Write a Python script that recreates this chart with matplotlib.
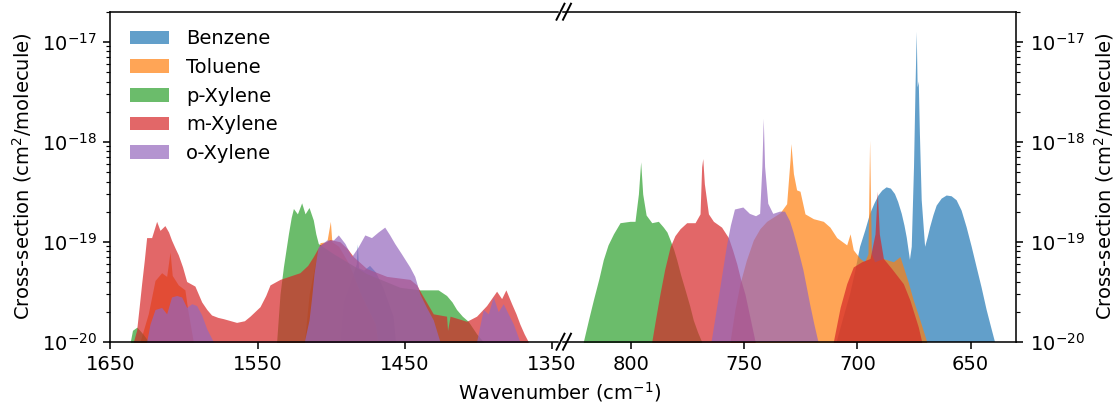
import matplotlib
matplotlib.use("Agg")
import matplotlib.pyplot as plt
from matplotlib.lines import Line2D
from matplotlib.ticker import LogLocator, NullFormatter

# ---------------- data (wavenumber cm^-1, cross-section cm^2/molecule) ----------------
# High-wavenumber window (1650-1350)
benzene_hi_wn = [1500, 1492, 1486, 1483, 1482.3, 1481.5, 1478, 1474, 1470, 1465, 1458, 1450]
benzene_hi_xs = [1e-21, 2.5e-20, 4.5e-20, 6e-20, 9.5e-20, 5.5e-20, 5.2e-20, 5.8e-20, 5.0e-20, 3.5e-20, 1.8e-20, 1e-21]

toluene_hi_wn = [1632, 1629.9, 1624.3, 1619.7, 1615.2, 1611.8, 1609.5, 1608.0, 1603.9, 1599.4, 1597.5, 1593.7, 1591,
                 1525, 1515, 1510, 1507.6, 1503, 1500.6, 1499.6, 1495, 1488, 1480, 1470, 1460]
toluene_hi_xs = [1e-21, 1e-20, 1.9e-20, 4.1e-20, 4.9e-20, 4.5e-20, 7.9e-20, 4.6e-20, 3.7e-20, 3.3e-20, 2.1e-20, 1e-20, 1e-21,
                 1e-21, 3e-20, 7e-20, 9.8e-20, 1.0e-19, 1.6e-19, 1.0e-19, 9e-20, 6e-20, 3e-20, 1.5e-20, 1e-21]

pxylene_hi_wn = [1640, 1636.5, 1635, 1632, 1628, 1624, 1620,
                 1540, 1537.1, 1534.8, 1532.5, 1529.1, 1527.2, 1525.7, 1523.0, 1520.1, 1517.8, 1515.1, 1512.2, 1510.5, 1508.8,
                 1498.6, 1476, 1453.4, 1439.8, 1427.4, 1421.7, 1418, 1414.9, 1411, 1407.0, 1401.3, 1396.8, 1393]
pxylene_hi_xs = [1e-21, 1e-20, 1.3e-20, 1.4e-20, 1.2e-20, 1e-20, 1e-21,
                 1e-21, 1e-20, 3.0e-20, 5.6e-20, 1.2e-19, 1.75e-19, 2.15e-19, 1.9e-19, 2.45e-19, 1.9e-19, 2.2e-19, 1.65e-19, 1.2e-19, 9.6e-20,
                 7.6e-20, 4.8e-20, 3.5e-20, 3.3e-20, 3.3e-20, 2.9e-20, 2.5e-20, 2.1e-20, 1.8e-20, 1.6e-20, 1.2e-20, 1e-20, 1e-21]

mxylene_hi_wn = [1638, 1634.4, 1632.2, 1630.5, 1628.8, 1627, 1625.4, 1622.0, 1618.6, 1616.3, 1613.0, 1610.5, 1608.5, 1606, 1603.9,
                 1601, 1598.2, 1592.6, 1588.0, 1584.5, 1581.3, 1577, 1573.3, 1564.3, 1559, 1555.2, 1548.4, 1544.5, 1541.6,
                 1534.8, 1521.3, 1516, 1512.2, 1507.7, 1500.9, 1494.1, 1489, 1485.0, 1476.0, 1462.3, 1446.5, 1442, 1438.6,
                 1434, 1430.7, 1421.7, 1421.0, 1419.3, 1408.0, 1401.3, 1394.5, 1387.7, 1384.3, 1381.4, 1377.5, 1374.5,
                 1371.9, 1369, 1366.2, 1362]
mxylene_hi_xs = [1e-21, 1e-20, 1.3e-20, 2.2e-20, 3.8e-20, 6.5e-20, 1.1e-19, 1.1e-19, 1.6e-19, 1.3e-19, 1.45e-19, 1.25e-19, 1.04e-19, 8.6e-20, 7.4e-20,
                 5.6e-20, 4.0e-20, 3.6e-20, 2.5e-20, 2.1e-20, 1.85e-20, 1.75e-20, 1.7e-20, 1.56e-20, 1.62e-20, 1.8e-20, 2.24e-20, 2.9e-20, 3.7e-20,
                 4.2e-20, 4.9e-20, 5.8e-20, 7.1e-20, 9.3e-20, 1.05e-19, 1.0e-19, 8.5e-20, 7.1e-20, 5.4e-20, 4.5e-20, 4.2e-20, 3.7e-20, 3.0e-20,
                 2.3e-20, 1.9e-20, 1.8e-20, 1.3e-20, 1.8e-20, 1.6e-20, 1.8e-20, 2.3e-20, 3.2e-20, 2.7e-20, 3.3e-20, 2.4e-20, 1.9e-20,
                 1.5e-20, 1.2e-20, 1e-20, 1e-21]

oxylene_hi_wn = [1628, 1625.4, 1623.1, 1619.7, 1615.2, 1611.8, 1608.5, 1605.0, 1601.6, 1598.2, 1594.8, 1591.4,
                 1588.0, 1584.6, 1580.1, 1577,
                 1521, 1518.3, 1515.1, 1513.3, 1511.7, 1510.2, 1508.8, 1503.1, 1498.6, 1495.2, 1490.7, 1486.2, 1481.7, 1477.2,
                 1472.7, 1468.2, 1463.7, 1460.3, 1456.9, 1452.4, 1446.7, 1443.3, 1439.8, 1435.3, 1430.7, 1426.2, 1423,
                 1404, 1401.3, 1396.8, 1393.4, 1390.0, 1386.6, 1383.2, 1379.8, 1376.3, 1371.9, 1369]
oxylene_hi_xs = [1e-21, 1e-20, 1.5e-20, 2.1e-20, 2.2e-20, 1.9e-20, 2.8e-20, 2.9e-20, 2.8e-20, 2.2e-20, 2.4e-20, 2.3e-20,
                 1.85e-20, 1.35e-20, 1e-20, 1e-21,
                 1e-21, 1e-20, 1.65e-20, 2.8e-20, 4.8e-20, 6.8e-20, 8.9e-20, 1.04e-19, 1.04e-19, 1.17e-19, 9.6e-20, 7.1e-20, 8.9e-20, 1.17e-19,
                 1.1e-19, 1.25e-19, 1.4e-19, 1.17e-19, 9.6e-20, 7.6e-20, 5.6e-20, 4.5e-20, 3.0e-20, 2.2e-20, 1.65e-20, 1e-20, 1e-21,
                 1e-21, 1e-20, 2.1e-20, 1.9e-20, 2.8e-20, 2.0e-20, 2.4e-20, 1.9e-20, 1.5e-20, 1e-20, 1e-21]

# Low-wavenumber window (830-630)
benzene_lo_wn = [712, 709.1, 706, 703.2, 701, 698.8, 696.5, 694.4, 692.5, 690.7, 689, 687.1, 685.2, 683.4, 682, 680.4,
                 679.2, 678.2, 676.8, 676.0, 675.0, 674.3, 673.8, 673.4, 672.9, 672.4, 671.6, 670.1, 669, 667.9, 666.4,
                 665.0, 662.8, 660.6, 658.4, 656.2, 654, 651.8, 649.6, 647.4, 645.2, 643.0, 641, 639.3, 637]
benzene_lo_xs = [1e-21, 1e-20, 1.8e-20, 3.0e-20, 5e-20, 8.9e-20, 1.3e-19, 1.9e-19, 2.4e-19, 2.9e-19, 3.25e-19, 3.5e-19, 3.4e-19, 3.0e-19, 2.5e-19, 1.9e-19,
                 1.45e-19, 1.1e-19, 6.6e-20, 8.9e-20, 5.6e-19, 3.8e-18, 1.26e-17, 3.5e-18, 4.0e-18, 1.2e-18, 2.6e-19, 8.9e-20, 1.1e-19, 1.4e-19, 1.85e-19,
                 2.3e-19, 2.7e-19, 2.9e-19, 2.85e-19, 2.6e-19, 2.05e-19, 1.4e-19, 9e-20, 5.6e-20, 3.5e-20, 2.1e-20, 1.4e-20, 1e-20, 1e-21]

toluene_lo_wn = [759, 756.2, 754, 751.8, 749, 745.9, 743, 740.0, 734.1, 731.2, 729.7, 729.3, 728.2, 726.8, 725.3, 723.1, 719.4,
                 715.0, 712.1, 709.1, 704.7, 703.2, 701.8, 698.8, 696.8, 695.3, 694.6, 693.8, 692.4, 688.7, 684.1,
                 681.2, 679.7, 677.5, 675.3, 672.4, 669.4, 667]
toluene_lo_xs = [1e-21, 1e-20, 2.1e-20, 3.8e-20, 6.5e-20, 1.04e-19, 1.35e-19, 1.6e-19, 1.95e-19, 2.4e-19, 6.6e-19, 9.6e-19, 4.8e-19, 3.3e-19, 3.2e-19, 1.9e-19, 1.7e-19,
                 1.6e-19, 1.4e-19, 1.1e-19, 9.3e-20, 1.2e-19, 8.3e-20, 6.8e-20, 6.3e-20, 7.6e-20, 1.04e-18, 7.6e-20, 6.3e-20, 6.8e-20, 6.3e-20,
                 7.1e-20, 5.6e-20, 3.9e-20, 2.6e-20, 1.65e-20, 1e-20, 1e-21]

pxylene_lo_wn = [824, 820.9, 818.5, 816.5, 814, 812.1, 810, 807.6, 804.7, 800.3, 798.1, 796.6, 795.6, 794.7, 793.2, 790.7, 787.8,
                 785.6, 784, 782.6, 781, 779.7, 778, 776.0, 774, 772.4, 770.5, 768.7, 766]
pxylene_lo_xs = [1e-21, 1e-20, 1.7e-20, 2.6e-20, 4.3e-20, 6.6e-20, 9.3e-20, 1.2e-19, 1.55e-19, 1.6e-19, 1.6e-19, 3.0e-19, 6.3e-19, 3.0e-19, 1.85e-19, 1.55e-19, 1.6e-19,
                 1.4e-19, 1.25e-19, 1.04e-19, 8.3e-20, 6.6e-20, 4.7e-20, 3.3e-20, 2.3e-20, 1.65e-20, 1.25e-20, 1e-20, 1e-21]

mxylene_lo_wn = [793, 790.7, 789, 787.1, 785, 782.6, 780.5, 778.2, 775.3, 771.6, 769.4, 768.7, 768.2, 767.5, 765.7, 763.5, 759.9,
                 756.9, 755, 753.2, 751.5, 749.6, 747.5, 745.1, 743,
                 713, 710.6, 707.6, 704.7, 701.8, 698.1, 694.4, 692.2, 691.2, 690.3, 688.5, 684.9, 679.7, 676.8,
                 673.1, 671.6, 669]
mxylene_lo_xs = [1e-21, 1e-20, 1.7e-20, 3.0e-20, 5.3e-20, 8.9e-20, 1.15e-19, 1.35e-19, 1.55e-19, 1.55e-19, 1.9e-19, 5.6e-19, 6.8e-19, 3.8e-19, 1.9e-19, 1.6e-19, 1.4e-19,
                 1.1e-19, 8.2e-20, 6.0e-20, 4.2e-20, 3.0e-20, 1.8e-20, 1e-20, 1e-21,
                 1e-21, 1e-20, 2.2e-20, 3.8e-20, 5.6e-20, 6.3e-20, 6.8e-20, 1.2e-19, 3.2e-19, 1.2e-19, 6.8e-20, 5.4e-20, 3.8e-20, 2.6e-20,
                 1.4e-20, 1e-20, 1e-21]

oxylene_lo_wn = [767, 764.3, 762.5, 760.6, 759, 757.6, 755.8, 754.0, 750.3, 747.4, 744.7, 742.9, 741.9, 741.3, 740.7, 739.3, 737.1,
                 734.1, 731.9, 729.7, 728.2, 726.8, 725.3, 723.8, 722.3, 720.9, 719, 717.2, 715]
oxylene_lo_xs = [1e-21, 1e-20, 1.8e-20, 3.3e-20, 5.6e-20, 8.9e-20, 1.45e-19, 2.1e-19, 2.2e-19, 1.9e-19, 1.8e-19, 1.9e-19, 5.6e-19, 1.7e-18, 5.6e-19, 2.4e-19, 1.9e-19,
                 2.0e-19, 2.0e-19, 1.6e-19, 1.25e-19, 9.6e-20, 7.1e-20, 5.2e-20, 3.5e-20, 2.4e-20, 1.5e-20, 1e-20, 1e-21]

species = ["Benzene", "Toluene", "p-Xylene", "m-Xylene", "o-Xylene"]
colors = ["tab:blue", "tab:orange", "tab:green", "tab:red", "tab:purple"]
y_major_ticks = [1e-20, 1e-19, 1e-18, 1e-17]
hi_data = [(benzene_hi_wn, benzene_hi_xs), (toluene_hi_wn, toluene_hi_xs), (pxylene_hi_wn, pxylene_hi_xs),
           (mxylene_hi_wn, mxylene_hi_xs), (oxylene_hi_wn, oxylene_hi_xs)]
lo_data = [(benzene_lo_wn, benzene_lo_xs), (toluene_lo_wn, toluene_lo_xs), (pxylene_lo_wn, pxylene_lo_xs),
           (mxylene_lo_wn, mxylene_lo_xs), (oxylene_lo_wn, oxylene_lo_xs)]

# ---------------- figure ----------------
W, H = 1119, 410
fig = plt.figure(figsize=(W / 140, H / 140), dpi=140)
bottom_px, top_px = 341.7, 11.7
ax1 = fig.add_axes([110.4 / W, 1 - bottom_px / H, (558.0 - 110.4) / W, (bottom_px - top_px) / H])
ax2 = fig.add_axes([562.7 / W, 1 - bottom_px / H, (1016.0 - 562.7) / W, (bottom_px - top_px) / H])

for (wn, xs), name, c in zip(hi_data, species, colors):
    ax1.fill_between(wn, 1e-22, xs, color=c, alpha=0.7, lw=0, label=name)
for (wn, xs), name, c in zip(lo_data, species, colors):
    ax2.fill_between(wn, 1e-22, xs, color=c, alpha=0.7, lw=0)

for ax in (ax1, ax2):
    ax.set_yscale("log")
    ax.set_ylim(1e-20, 2e-17)
    ax.set_yticks(y_major_ticks)
    ax.yaxis.set_minor_locator(LogLocator(base=10, subs=range(2, 10)))
    ax.yaxis.set_minor_formatter(NullFormatter())

ax1.set_xlim(1650, 1346)
ax1.set_xticks([1650, 1550, 1450, 1350])
ax2.set_xlim(830, 630)
ax2.set_xticks([800, 750, 700, 650])

ax1.spines["right"].set_visible(False)
ax2.spines["left"].set_visible(False)
ax2.yaxis.tick_right()
ax2.yaxis.set_label_position("right")
ax2.tick_params(axis="y", which="both", left=False)

ax1.set_ylabel("Cross-section (cm$^2$/molecule)")
ax2.set_ylabel("Cross-section (cm$^2$/molecule)")
fig.text(560 / W, 1 - 392 / H, "Wavenumber (cm$^{-1}$)", ha="center", va="center")

ax1.legend(loc="upper left", frameon=False, handletextpad=0.9, bbox_to_anchor=(0.004, 1.0))

# break marks
for yc in (top_px, bottom_px):
    for xc in (560.5, 567.0):
        fig.add_artist(Line2D([(xc - 4) / W, (xc + 4) / W], [1 - (yc + 8) / H, 1 - (yc - 8) / H],
                              color="k", lw=1.0, transform=fig.transFigure, clip_on=False))

fig.savefig("out.png", dpi=140)
